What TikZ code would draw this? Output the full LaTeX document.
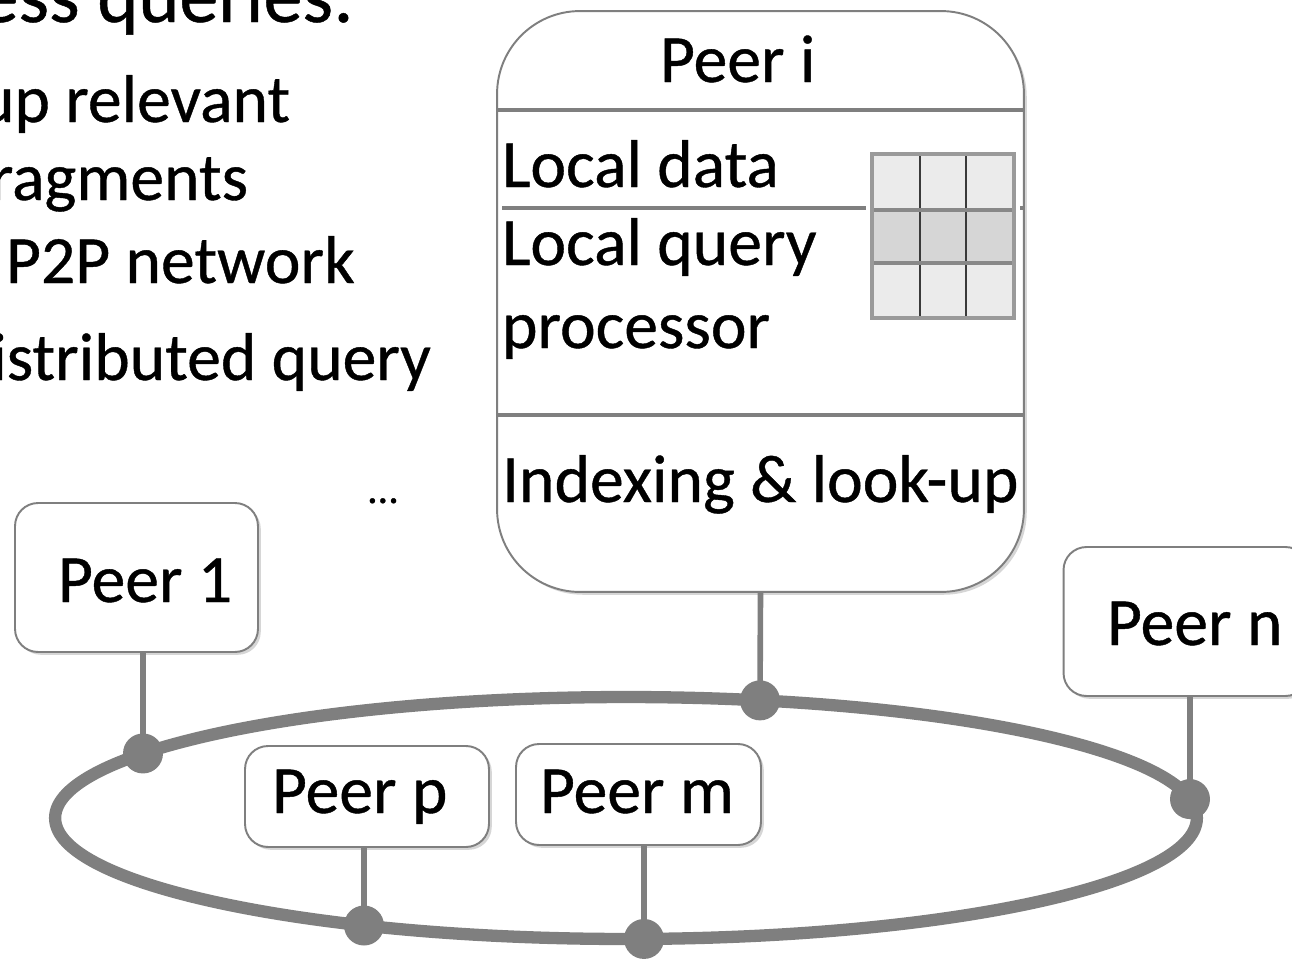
\documentclass[tikz,border=0pt]{standalone}
\usepackage{fontspec}
\setmainfont{Carlito}[FakeBold=0.6]
\usetikzlibrary{shadows}
\definecolor{lg}{HTML}{7F7F7F}
\definecolor{cellA}{HTML}{EBEBEB}
\definecolor{cellB}{HTML}{D6D6D6}
\definecolor{gridout}{HTML}{9A9A9A}
\definecolor{gridh}{HTML}{888888}
\definecolor{gridv}{HTML}{3A3A3A}
\tikzset{
  txt/.style={inner sep=0pt, outer sep=0pt, font=\fontsize{38.5}{46}\selectfont},
  head/.style={inner sep=0pt, outer sep=0pt, font=\fontsize{44.5}{52}\selectfont},
  sh/.style={drop shadow={shadow xshift=1.6pt, shadow yshift=-1.6pt, opacity=0.16, fill=black}},
  peerbox/.style={draw=lg, line width=1.1pt, fill=white, rounded corners=0.46cm, inner sep=0pt, sh},
  bigbox/.style={draw=lg, line width=1.1pt, fill=white, rounded corners=1.66cm, inner sep=0pt, sh},
  divline/.style={draw=lg, line width=2.8pt},
  conn/.style={draw=lg, line width=3.2pt},
  ring/.style={draw=lg, line width=7pt},
  dot/.style={fill=lg},
}
\begin{document}
\begin{tikzpicture}[x=0.02cm, y=-0.02cm]
\useasboundingbox (0,0) rectangle (1292,960);
\clip (0,0) rectangle (1292,960);

% clipped slide text on the left
\node[head, anchor=base east] (t0) at (354,22) {ess queries:};
\node[txt, anchor=base east] (t1) at (290,122) {up relevant};
\node[txt, anchor=base east] (t2) at (248,200) {ragments};
\node[txt, anchor=base west] (t3) at (6,283) {P2P network};
\node[txt, anchor=base east] (t4) at (431,380) {istributed query};
\node[inner sep=0pt, font=\fontsize{24}{28}\selectfont, anchor=base] (dots) at (383,503) {…};

% ring
\draw[ring] (626,818) ellipse [x radius=11.42cm, y radius=2.42cm];
\coordinate (d1) at (143, {818-121*sqrt(1-((143-626)/571)^2)});
\coordinate (di) at (760, {818-121*sqrt(1-((760-626)/571)^2)});
\coordinate (dn) at (1190, {818-121*sqrt(1-((1190-626)/571)^2)});
\coordinate (dp) at (364, {818+121*sqrt(1-((364-626)/571)^2)});
\coordinate (dm) at (644, {818+121*sqrt(1-((644-626)/571)^2)});

% peer boxes
\node[bigbox, minimum width=10.54cm, minimum height=11.62cm] (peeri) at (760.5,301.5) {};
\node[peerbox, minimum width=4.86cm, minimum height=2.98cm] (p1) at (136.5,577.5) {};
\node[peerbox, minimum width=4.88cm, minimum height=2.02cm] (pp) at (367,796.5) {};
\node[peerbox, minimum width=4.90cm, minimum height=2.02cm] (pm) at (638.5,794.5) {};
\node[peerbox, minimum width=4.90cm, minimum height=2.98cm] (pn) at (1186,621.5) {};

% connectors
\draw[conn] (peeri.south) -- (di);
\draw[conn] (p1.south -| d1) -- (d1);
\draw[conn] (pp.south -| dp) -- (dp);
\draw[conn] (pm.south -| dm) -- (dm);
\draw[conn] (pn.south -| dn) -- (dn);
\foreach \d in {d1,di,dn,dp,dm} \fill[dot] (\d) circle [radius=0.4cm];

% peer labels
\node[txt, anchor=base west] (l1) at (58,602) {Peer 1};
\node[txt, anchor=base west] (lp) at (272,813) {Peer p};
\node[txt, anchor=base west] (lm) at (540,813) {Peer m};
\node[txt, anchor=base west] (ln) at (1107,645) {Peer n};

% inside Peer i
\draw[divline] (497,110) -- (1024,110);
\draw[divline] (502,208) -- (1023,208);
\draw[divline] (497,415) -- (1024,415);
\node[txt, anchor=base west] (li) at (660,82) {Peer i};
\node[txt, anchor=base west] (ld) at (502,187) {Local data};
\node[txt, anchor=base west] (lq) at (502,265) {Local query};
\node[txt, anchor=base west] (lpr) at (502,348) {processor};
\node[txt, anchor=base west] (lx) at (502,502) {Indexing \& look-up};

% data grid
\fill[white] (866,150) rectangle (1020,322);
\fill[cellA] (872,154) rectangle (1014,210);
\fill[cellB] (872,210) rectangle (1014,263);
\fill[cellA] (872,263) rectangle (1014,318);
\draw[gridv, line width=1.3pt] (920,154) -- (920,318) (966,154) -- (966,318);
\draw[gridh, line width=2.8pt] (872,210) -- (1014,210) (872,263) -- (1014,263);
\draw[gridout, line width=2.8pt] (872,154) rectangle (1014,318);
\end{tikzpicture}
\end{document}
